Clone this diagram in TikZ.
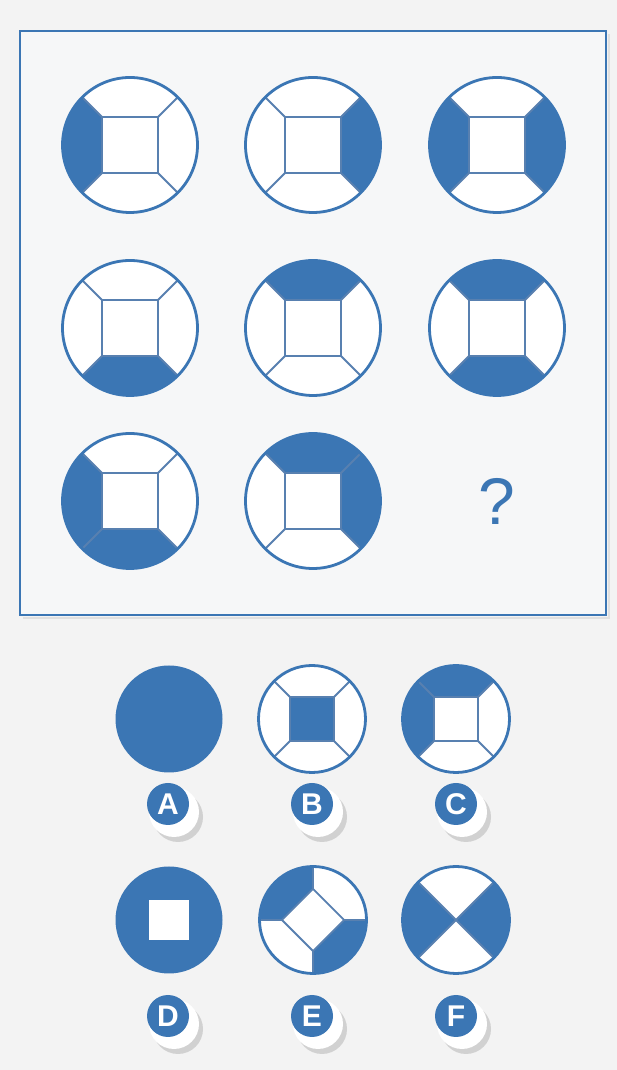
\documentclass[tikz,border=0pt]{standalone}
\usepackage{fontspec}
\setmainfont{Liberation Sans}
\definecolor{mblue}{RGB}{59,118,180}
\definecolor{lblue}{RGB}{88,128,176}
\definecolor{bg}{RGB}{243,243,243}
\definecolor{pbg}{RGB}{246,247,248}
\tikzset{
  ring/.style={draw=mblue, line width=2.8pt},
  spoke/.style={draw=lblue, line width=1.8pt},
  panelframe/.style={draw=mblue, line width=2.6pt, fill=pbg},
  letterdisc/.style={circle, fill=mblue, minimum size=42pt, inner sep=0pt, text=white,
    font=\fontsize{30}{30}\selectfont\bfseries},
}
% center, radius, rotation, shaded panel angles
\newcommand\ringfig[4]{%
  \begin{scope}[shift={(#1)}, scale=#2, rotate=#3]
    \fill[white] (0,0) circle[radius=1];
    \foreach \t in {#4}{\fill[mblue] ({\t-45}:0.58) -- ({\t-45}:1) arc[start angle=\t-45, end angle=\t+45, radius=1] -- ({\t+45}:0.58) -- cycle;}
    \draw[spoke] (45:0.58) -- (135:0.58) -- (225:0.58) -- (315:0.58) -- cycle;
    \foreach \a in {45,135,225,315}{\draw[spoke] (\a:0.58) -- (\a:1);}
    \draw[ring] (0,0) circle[radius=1];
  \end{scope}}
% name, position, letter
\newcommand\answerlabel[3]{%
  \begin{scope}[shift={(#2)}]
    \fill[black!18] (10,-13) circle[radius=25];
    \fill[white] (6,-8) circle[radius=25];
    \node[letterdisc] (#1) at (0,0) {#3};
  \end{scope}}
\begin{document}
\begin{tikzpicture}[x=1pt,y=1pt]
\useasboundingbox (0,0) rectangle (617,1070);
\fill[bg] (0,0) rectangle (617,1070);
% question panel
\draw[black!12, line width=2.5pt] (23,452) -- (609,452) -- (609,1036);
\draw[panelframe] (20,455) rectangle (606,1039);
% grid
\ringfig{130,925}{67.5}{0}{180}
\ringfig{313,925}{67.5}{0}{0}
\ringfig{497,925}{67.5}{0}{180,0}
\ringfig{130,742}{67.5}{0}{270}
\ringfig{313,742}{67.5}{0}{90}
\ringfig{497,742}{67.5}{0}{90,270}
\ringfig{130,569}{67.5}{0}{180,270}
\ringfig{313,569}{67.5}{0}{90,0}
\node[text=mblue, font=\fontsize{66}{66}\selectfont, inner sep=0pt] (qmark) at (497,569) {?};
% answers
\coordinate (ansA) at (169,351);
\fill[mblue] (ansA) circle[radius=53.5];
% B
\begin{scope}[shift={(312,351)}, scale=53.5]
  \fill[white] (0,0) circle[radius=1];
  \fill[mblue] (45:0.58) -- (135:0.58) -- (225:0.58) -- (315:0.58) -- cycle;
  \draw[spoke] (45:0.58) -- (135:0.58) -- (225:0.58) -- (315:0.58) -- cycle;
  \foreach \a in {45,135,225,315}{\draw[spoke] (\a:0.58) -- (\a:1);}
  \draw[ring] (0,0) circle[radius=1];
\end{scope}
\coordinate (ansB) at (312,351);
\ringfig{456,351}{53.5}{0}{90,180}
\coordinate (ansC) at (456,351);
% D
\coordinate (ansD) at (169,150);
\fill[mblue] (ansD) circle[radius=53.5];
\fill[white] (149,130) rectangle (189,170);
% E
\ringfig{313,150}{53.5}{45}{90,270}
\coordinate (ansE) at (313,150);
% F
\coordinate (ansF) at (456,150);
\begin{scope}[shift={(ansF)}, scale=53.5]
  \fill[white] (0,0) circle[radius=1];
  \fill[mblue] (0,0) -- (135:1) arc[start angle=135, end angle=225, radius=1] -- cycle;
  \fill[mblue] (0,0) -- (-45:1) arc[start angle=-45, end angle=45, radius=1] -- cycle;
  \draw[spoke] (45:1) -- (225:1);
  \draw[spoke] (135:1) -- (315:1);
  \draw[ring] (0,0) circle[radius=1];
\end{scope}
% labels
\answerlabel{labA}{168,266}{A}
\answerlabel{labB}{312,266}{B}
\answerlabel{labC}{456,266}{C}
\answerlabel{labD}{168,54}{D}
\answerlabel{labE}{312,54}{E}
\answerlabel{labF}{456,54}{F}
\end{tikzpicture}
\end{document}
